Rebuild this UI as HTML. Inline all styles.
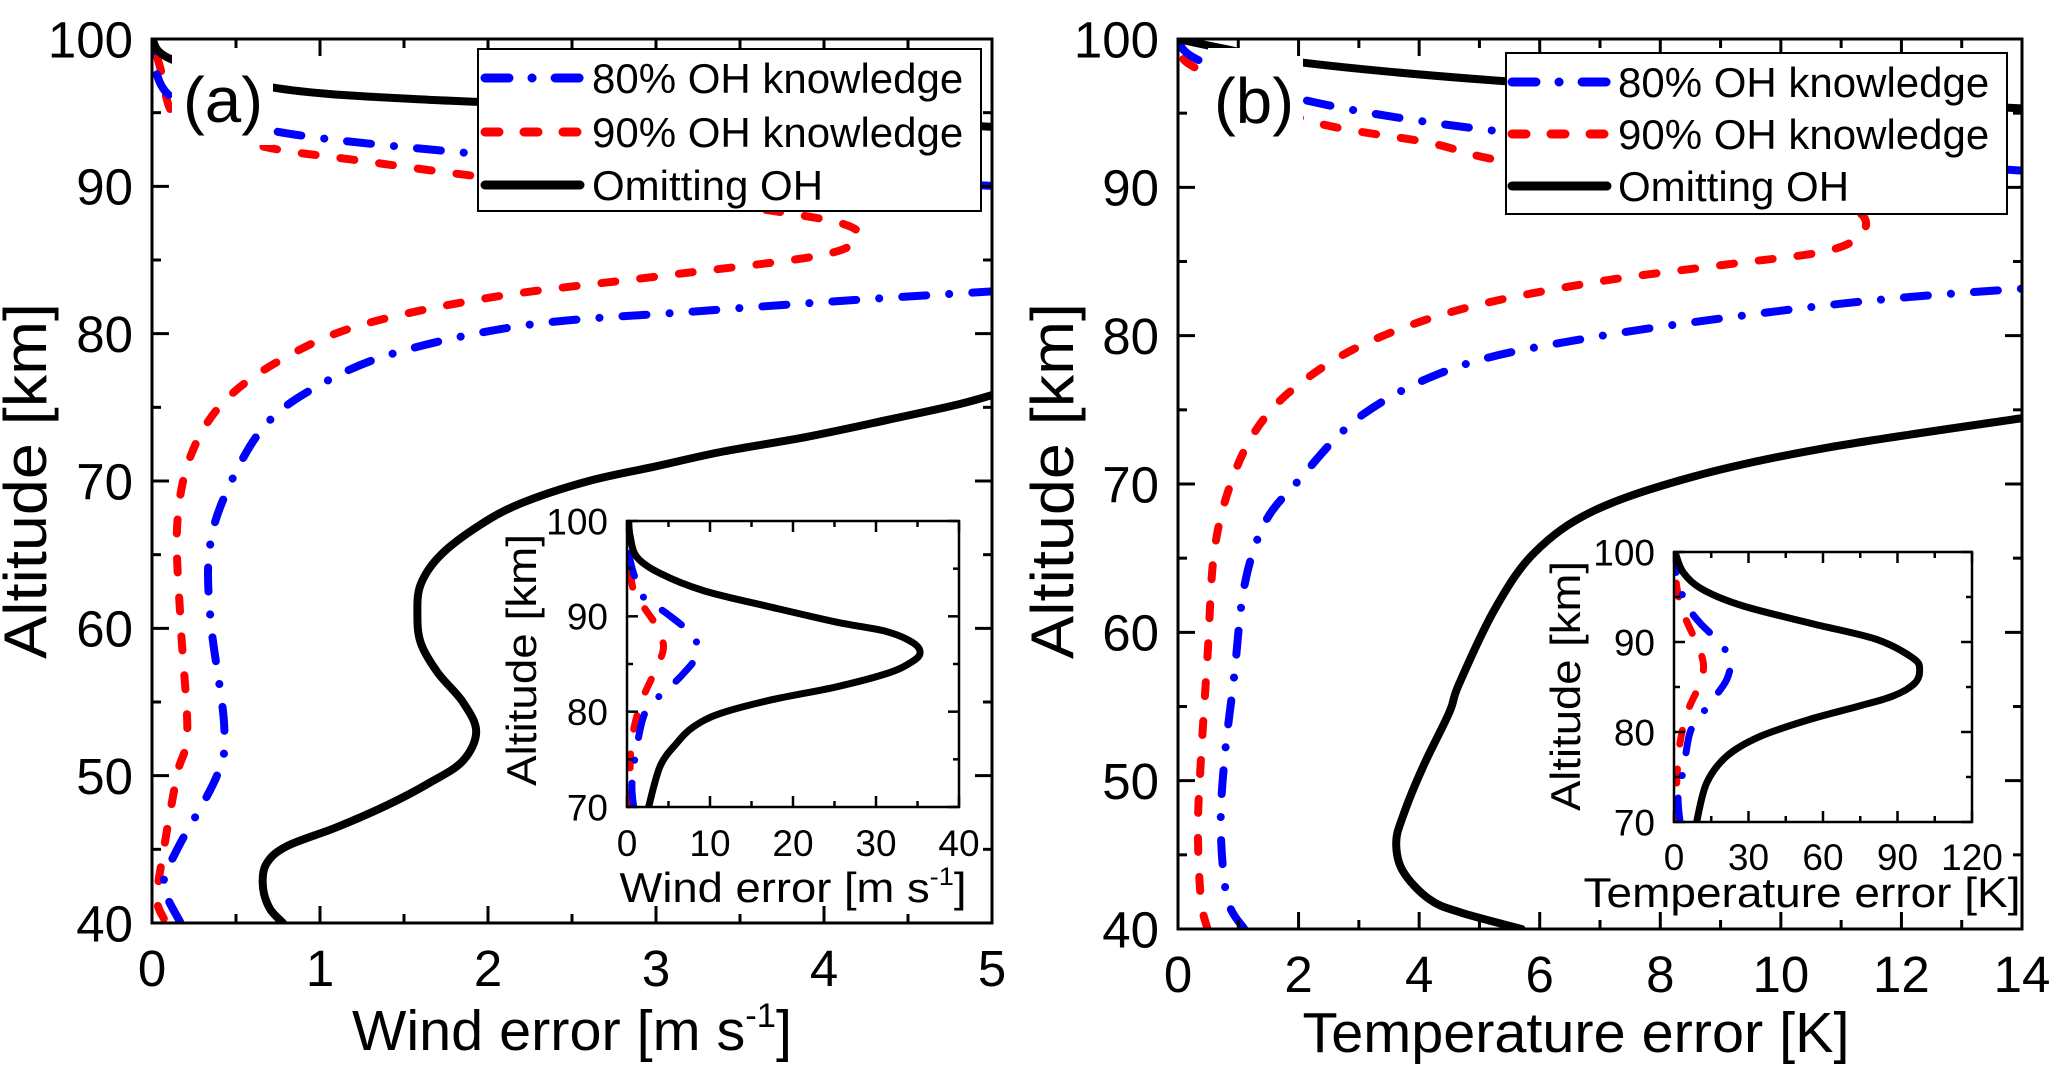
<!DOCTYPE html>
<html><head><meta charset="utf-8"><style>
html,body{margin:0;padding:0;background:#fff;}
svg{display:block;font-family:"Liberation Sans",Arial,sans-serif;}
</style></head><body>
<svg id="fig" width="2067" height="1084" viewBox="0 0 2067 1084" xmlns="http://www.w3.org/2000/svg">
<defs>
<clipPath id="clipA"><rect x="152" y="39" width="840" height="884"/></clipPath>
<clipPath id="clipB"><rect x="1178" y="39" width="844" height="890"/></clipPath>
<clipPath id="clipIA"><rect x="627" y="521" width="332" height="286"/></clipPath>
<clipPath id="clipIB"><rect x="1674" y="552" width="298" height="270"/></clipPath>
</defs>
<g id="root"></g>
</svg>
<script>
// ---- Panel (a) main: wind error [m/s] vs altitude [km] ----
const aBlackX = [0.78,0.70,0.66,0.68,0.80,1.10,1.40,1.65,1.85,1.93,1.85,1.70,1.60,1.58,1.60,1.72,1.95,2.20,2.60,3.00,3.40,3.90,4.40,4.80,5.05];
const aBlackY = [40,41,42.5,44,45.2,46.5,48,49.5,51,53,55,57,59,61,63,65,67,68.5,70,71,72,73,74.2,75.2,76];
const aBlackTopX = [0,0.12,0.72,1.6,3.0,4.0,5.05];
const aBlackTopY = [100,98.6,96.7,95.9,95.3,94.7,94.0];
const aRedX = [0.07,0.03,0.07,0.15,0.21,0.17,0.15,0.23,0.43,0.78,1.25,2.04,3.02,3.97,4.20,4.10,3.60,3.00,2.00,1.20,0.80,0.55,0.30,0.12,0.05,0];
const aRedY = [40.3,41.7,45,50.1,53,60.4,67,71.7,75.4,78.3,80.6,82.5,83.9,85.3,86.5,87.5,88.5,89.5,90.6,91.8,92.4,93,93.8,95,98,100];
const aBlueX = [0.17,0.07,0.15,0.39,0.43,0.35,0.34,0.43,0.66,0.98,1.45,2.24,3.22,4.20,5.05];
const aBlueY = [40,42.6,45,50.1,53.4,60.4,65.1,68.9,73.6,76.4,78.7,80.6,81.5,82.3,82.9];
const aBlueTopX = [5.05,4.0,3.0,1.84,0.70,0.11,0];
const aBlueTopY = [90,90.6,91.3,92.3,93.8,96.1,100];
// ---- Panel (a) inset ----
const iaBlackX = [2.6,4.0,6.0,8.0,11.2,17.2,25.2,31.3,34.1,35.3,34.5,31.3,25.2,17.2,9.2,4.0,1.2,0.4,0.2];
const iaBlackY = [70,74.3,76.7,78.4,79.8,81.2,82.6,84,85.1,86.1,87.2,88.4,89.4,91,92.7,94.5,96.2,98.3,100];
const iaBlueX = [0.8,0.6,1.2,2.0,3.0,4.8,6.8,8.4,8.0,4.8,2.0,0.8,0.2];
const iaBlueY = [70,72.5,76.4,79.5,80.9,82.3,84,85.9,87.9,90.3,92,94.5,96.6];
const iaRedX = [0.4,0.4,0.8,1.8,3.6,4.4,3.6,2.0,0.8,0.2,0.1];
const iaRedY = [70,75,78.1,81.2,84.7,86.8,88.9,91,92.7,95.9,97];
// ---- Panel (b) main: temperature error [K] ----
const bBlackX = [5.7,4.7,4.17,3.73,3.62,3.73,4.06,4.50,4.66,5.26,5.92,6.90,8.55,10.7,14.1];
const bBlackY = [40,41.1,42,43.9,45.8,47.6,50.9,54.6,56.5,61.6,65.4,68.2,70.5,72.4,74.5];
const bBlackTopX = [0,0.7,2.08,5.26,9.0,14.1];
const bBlackTopY = [100,99.4,98.4,97.2,96.3,95.3];
const bRedX = [0.49,0.38,0.33,0.38,0.49,0.60,0.88,1.32,1.97,3.07,4.71,6.90,9.10,10.75,11.35,11.3,10.5,8.0,5.37,4.17,2.08,0.27,0.11,0];
const bRedY = [40,42,46.7,51.4,58.4,65.4,70.1,73.8,76.6,79.4,81.8,83.6,84.8,85.7,86.9,88.3,89.2,90.5,91.8,93,94.6,98.1,99.1,100];
const bBlueX = [1.10,0.82,0.71,0.77,0.93,1.10,1.43,1.97,3.07,4.71,6.90,9.65,11.84,14.1];
const bBlueY = [40,42,46.7,51.4,57,63.1,67.3,70.1,74.7,78,79.9,81.5,82.5,83.2];
const bBlueTopX = [14.1,10,5.48,2.08,0.33,0];
const bBlueTopY = [91.1,92.2,93.7,95.9,98.6,100];
// ---- Panel (b) inset ----
const ibBlackX = [9.1,13.1,21.2,34.6,54.7,74.8,88.2,96.9,98.9,96.3,81.5,54.7,27.9,11.8,3.8,0.4];
const ibBlackY = [70,74.3,77.3,79.5,81.4,82.9,84,85.4,86.9,88.2,90.3,92.1,94,95.8,97.7,100];
const ibBlueX = [2.4,1.7,3.8,6.4,10.5,14.5,21.2,22.5,18.5,10.5,5.4,1.7,0.4];
const ibBlueY = [70,72.9,75.8,79.9,81.7,83.2,85.8,88,89.9,92.1,94,96.6,98.8];
const ibRedX = [1.1,1.1,2.4,5.8,10.5,11.8,8.4,3.8,1.1,0.4];
const ibRedY = [70,74.3,78.8,82.5,85.4,87.7,90.3,93.2,96.2,99.5];
// ticks
const aXTicks = ["0","1","2","3","4","5"];
const bXTicks = ["0","2","4","6","8","10","12","14"];
const yTicks = ["40","50","60","70","80","90","100"];
const iaXTicks = ["0","10","20","30","40"];
const ibXTicks = ["0","30","60","90","120"];
const iYTicks = ["70","80","90","100"];

const NS="http://www.w3.org/2000/svg";
const root=document.getElementById('root');
function mk(tag,attrs,parent){const e=document.createElementNS(NS,tag);for(const k in attrs)e.setAttribute(k,attrs[k]);(parent||root).appendChild(e);return e;}
function scale(d0,d1,r0,r1){return v=>r0+(v-d0)/(d1-d0)*(r1-r0);}
function pathD(xs,ys,sx,sy){
  const p=xs.map((x,i)=>[sx(x),sy(ys[i])]);
  let d="M"+p[0][0].toFixed(1)+","+p[0][1].toFixed(1);
  for(let i=0;i<p.length-1;i++){
    const p0=p[i-1]||p[i],p1=p[i],p2=p[i+1],p3=p[i+2]||p[i+1];
    const c1=[p1[0]+(p2[0]-p0[0])/6,p1[1]+(p2[1]-p0[1])/6];
    const c2=[p2[0]-(p3[0]-p1[0])/6,p2[1]-(p3[1]-p1[1])/6];
    d+="C"+c1[0].toFixed(1)+","+c1[1].toFixed(1)+" "+c2[0].toFixed(1)+","+c2[1].toFixed(1)+" "+p2[0].toFixed(1)+","+p2[1].toFixed(1);
  }
  return d;
}
const STY={
  black:{stroke:"#000",dash:"none"},
  red:{stroke:"#ff0000",dash:"14 25"},
  blue:{stroke:"#0000ff",dash:"24 23 0.1 23"}
};
function series(g,xs,ys,sx,sy,kind,w,name){
  const s=STY[kind];
  const e=mk('path',{d:pathD(xs,ys,sx,sy),fill:"none",stroke:s.stroke,"stroke-width":w,"stroke-dasharray":s.dash,"stroke-linecap":"round","stroke-linejoin":"round"},g);
  
  
  return e;
}
function axes(cfg){
  const {L,R,T,B,xMax,xTicks,xStep,yMin,yMax,majL,minL,fs,name}=cfg;
  const sx=scale(0,xMax,L,R), sy=scale(yMin,yMax,B,T);
  const g=mk('g',{});
  
  
  // x ticks
  const xn=xTicks.length-1;
  for(let i=0;i<=xn*2;i++){
    const v=i*xStep/2, x=sx(v), len=(i%2===0)?majL:minL;
    mk('line',{x1:x,y1:B,x2:x,y2:B-len,stroke:"#000","stroke-width":cfg.tw},g);
    mk('line',{x1:x,y1:T,x2:x,y2:T+len,stroke:"#000","stroke-width":cfg.tw},g);
  }
  xTicks.forEach((t,i)=>{
    const e=mk('text',{x:sx(Number(t)),y:cfg.xLabY,"font-size":fs,"text-anchor":"middle"},g);e.textContent=t;
    
    
  });
  const yTk=cfg.yTicks, ystep=Number(yTk[1])-Number(yTk[0]);
  for(let i=0;i<=(yTk.length-1)*2;i++){
    const v=yMin+i*ystep/2, y=sy(v), len=(i%2===0)?majL:minL;
    mk('line',{x1:L,y1:y,x2:L+len,y2:y,stroke:"#000","stroke-width":cfg.tw},g);
    mk('line',{x1:R,y1:y,x2:R-len,y2:y,stroke:"#000","stroke-width":cfg.tw},g);
  }
  yTk.forEach(t=>{
    const e=mk('text',{x:cfg.yLabX,y:sy(Number(t))+fs*0.36,"font-size":fs,"text-anchor":"end"},g);e.textContent=t;
    
    
  });
  mk('rect',{x:L,y:T,width:R-L,height:B-T,fill:"none",stroke:"#000","stroke-width":cfg.fw},g);
  return {sx,sy,g};
}
function title(x,y,txt,fs,len,rot,name,sup){
  const e=mk('text',{x:x,y:y,"font-size":fs,"text-anchor":"middle",textLength:len,lengthAdjust:"spacingAndGlyphs"});
  if(rot)e.setAttribute('transform','rotate(-90 '+x+' '+y+')');
  if(sup){
    e.appendChild(document.createTextNode(txt));
    const ts=document.createElementNS(NS,'tspan');ts.setAttribute('dy',-fs*0.4);ts.setAttribute('font-size',fs*0.6);ts.textContent='-1';e.appendChild(ts);
    const ts2=document.createElementNS(NS,'tspan');ts2.setAttribute('dy',fs*0.4);ts2.textContent=']';e.appendChild(ts2);
  } else e.textContent=txt;
  
  
  return e;
}
function legend(x,y,w,h,lx1,lx2,tx,rows,name){
  const g=mk('g',{});
  
  
  mk('rect',{x:x,y:y,width:w,height:h,fill:"#fff",stroke:"#000","stroke-width":2},g);
  const items=[["blue","80% OH knowledge"],["red","90% OH knowledge"],["black","Omitting OH"]];
  items.forEach((it,i)=>{
    const s=STY[it[0]];
    const ln=mk('line',{x1:lx1,y1:rows[i],x2:lx2,y2:rows[i],stroke:s.stroke,"stroke-width":9,"stroke-dasharray":s.dash,"stroke-linecap":"round"},g);
    
    
    const t=mk('text',{x:tx,y:rows[i]+15,"font-size":42},g);t.textContent=it[1];
    
    
  });
}
function label(x,y,w,h,txt,tx,ty,name){
  mk('rect',{x:x,y:y,width:w,height:h,fill:"#fff"});
  const e=mk('text',{x:tx,y:ty,"font-size":64,textLength:80,lengthAdjust:"spacingAndGlyphs"});e.textContent=txt;
  
  
}

// ===== Panel A =====
{
  const sx=scale(0,5,152,992), sy=scale(40,100,923,39);
  const g=mk('g',{"clip-path":"url(#clipA)"});
  
  
  series(g,aRedX,aRedY,sx,sy,"red",8,"panel-a-90pct-line");
  series(g,aBlueX,aBlueY,sx,sy,"blue",8,"panel-a-80pct-line");
  series(g,aBlueTopX,aBlueTopY,sx,sy,"blue",8,"panel-a-80pct-line-top");
  series(g,aBlackX,aBlackY,sx,sy,"black",8,"panel-a-omit-line");
  series(g,aBlackTopX,aBlackTopY,sx,sy,"black",8,"panel-a-omit-line-top");
  label(172,45,101,100,"(a)",183,122,"panel-a-label");
  axes({L:152,R:992,T:39,B:923,xMax:5,xTicks:aXTicks,xStep:1,yMin:40,yMax:100,yTicks:yTicks,majL:17,minL:9,fs:51,tw:3,fw:3,xLabY:986,yLabX:133,name:"panel-a"});
  legend(478,49,503,162,485,580,592,[78,132,185],"panel-a-legend");
  title(46,481,"Altitude [km]",60,356,true,"panel-a-y-axis-title");
  title(572,1050,"Wind error [m s",57,440,false,"panel-a-x-axis-title",true);
  // inset
  mk('rect',{x:627,y:521,width:332,height:286,fill:"#fff"});
  const ix=scale(0,40,627,959), iy=scale(70,100,807,521);
  const gi=mk('g',{"clip-path":"url(#clipIA)"});
  
  
  series(gi,iaRedX,iaRedY,ix,iy,"red",7,"inset-a-90pct-line");
  series(gi,iaBlueX,iaBlueY,ix,iy,"blue",7,"inset-a-80pct-line");
  series(gi,iaBlackX,iaBlackY,ix,iy,"black",7,"inset-a-omit-line");
  axes({L:627,R:959,T:521,B:807,xMax:40,xTicks:iaXTicks,xStep:10,yMin:70,yMax:100,yTicks:iYTicks,majL:11,minL:6,fs:37,tw:2.5,fw:2.5,xLabY:856,yLabX:608,name:"inset-a"});
  title(793,902,"Wind error [m s",42,347,false,"inset-a-x-axis-title",true);
  title(536,660,"Altitude [km]",42,252,true,"inset-a-y-axis-title");
}
// ===== Panel B =====
{
  const sx=scale(0,14,1178,2022), sy=scale(40,100,929,39);
  const g=mk('g',{"clip-path":"url(#clipB)"});
  
  
  series(g,bRedX,bRedY,sx,sy,"red",8,"panel-b-90pct-line");
  series(g,bBlueX,bBlueY,sx,sy,"blue",8,"panel-b-80pct-line");
  series(g,bBlueTopX,bBlueTopY,sx,sy,"blue",8,"panel-b-80pct-line-top");
  series(g,bBlackX,bBlackY,sx,sy,"black",8,"panel-b-omit-line");
  series(g,bBlackTopX,bBlackTopY,sx,sy,"black",8,"panel-b-omit-line-top");
  label(1208,48,95,100,"(b)",1214,123,"panel-b-label");
  axes({L:1178,R:2022,T:39,B:929,xMax:14,xTicks:bXTicks,xStep:2,yMin:40,yMax:100,yTicks:yTicks,majL:17,minL:9,fs:51,tw:3,fw:3,xLabY:992,yLabX:1159,name:"panel-b"});
  legend(1506,53,501,161,1512,1607,1618,[82,134,186],"panel-b-legend");
  title(1073,481,"Altitude [km]",60,356,true,"panel-b-y-axis-title");
  title(1576,1052,"Temperature error [K]",57,547,false,"panel-b-x-axis-title");
  mk('rect',{x:1674,y:552,width:298,height:270,fill:"#fff"});
  const ix=scale(0,120,1674,1972), iy=scale(70,100,822,552);
  const gi=mk('g',{"clip-path":"url(#clipIB)"});
  
  
  series(gi,ibRedX,ibRedY,ix,iy,"red",7,"inset-b-90pct-line");
  series(gi,ibBlueX,ibBlueY,ix,iy,"blue",7,"inset-b-80pct-line");
  series(gi,ibBlackX,ibBlackY,ix,iy,"black",7,"inset-b-omit-line");
  axes({L:1674,R:1972,T:552,B:822,xMax:120,xTicks:ibXTicks,xStep:30,yMin:70,yMax:100,yTicks:iYTicks,majL:11,minL:6,fs:37,tw:2.5,fw:2.5,xLabY:870,yLabX:1655,name:"inset-b"});
  title(1802,907,"Temperature error [K]",42,437,false,"inset-b-x-axis-title");
  title(1580,686,"Altitude [km]",42,250,true,"inset-b-y-axis-title");
}
</script>
</body></html>
